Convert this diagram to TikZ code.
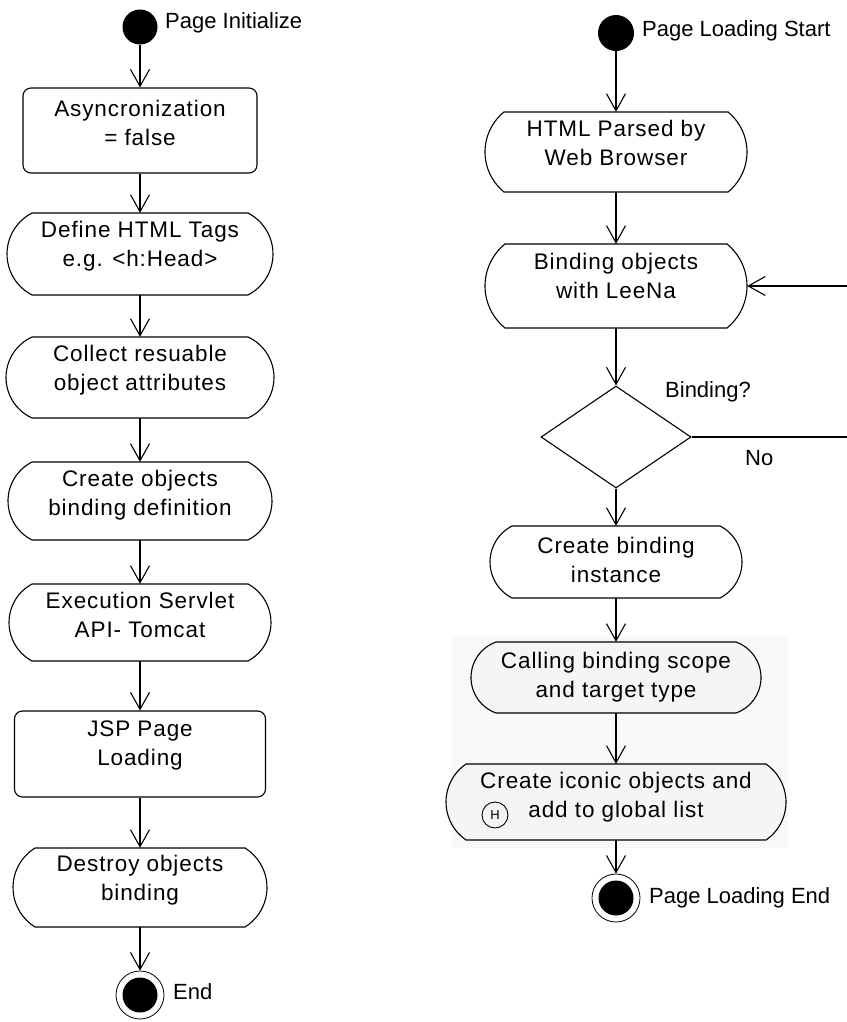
\documentclass[tikz,border=0pt]{standalone}
\usepackage{fontspec}
\setmainfont{Liberation Sans}
\newfontfamily\boxfont{Liberation Sans}[LetterSpace=4.0]
\usetikzlibrary{arrows.meta,shapes.geometric,calc}

\tikzset{
  flow/.style={line width=1.1pt,
    -{Straight Barb[length=17pt,width=19pt,line width=1.1pt]}},
  plain/.style={line width=1.1pt},
  outline/.style={draw=black, line width=1.1pt},
  boxtext/.style={font=\boxfont\fontsize{22.5}{29}\selectfont, align=center, inner sep=0pt},
  anchorbox/.style={draw=none, inner sep=0pt},
  lbl/.style={font=\fontsize{22}{26}\selectfont, anchor=west, inner sep=0pt},
  startdot/.style={circle, fill=black, inner sep=0pt},
  enddot/.style={circle, draw=black, line width=0.8pt, minimum size=48pt, inner sep=0pt,
    path picture={\fill[black] (path picture bounding box.center) circle[radius=17.5pt];}},
  decision/.style={diamond, draw=black, line width=1.1pt, fill=white, inner sep=0pt,
    minimum width=150pt, minimum height=102pt},
  histbadge/.style={circle, draw=black, line width=0.9pt, minimum size=26pt, inner sep=0pt,
    font=\fontsize{13}{13}\selectfont},
}

% Action state: flat top and bottom, circular-arc sides.
% #1 name, #2 cx, #3 cy, #4 half flat width, #5 half height, #6 side bulge,
% #7 fill colour, #8 text raise, #9 text
\newcommand\actstate[9]{%
  \pgfmathsetmacro\asr{(#5*#5+#6*#6)/(2*#6)}%
  \pgfmathsetmacro\asphi{asin(#5/\asr)}%
  \draw[outline, fill=#7] (#2+#4,#3+#5) -- (#2-#4,#3+#5)
    arc[start angle=180-\asphi, end angle=180+\asphi, radius=\asr pt]
    -- (#2+#4,#3-#5)
    arc[start angle=-\asphi, end angle=\asphi, radius=\asr pt] -- cycle;
  \node[anchorbox, minimum width={(2*#4+2*#6)*1pt}, minimum height={2*#5*1pt}] (#1) at (#2,#3) {};
  \node[boxtext] (#1t) at (#2,#3+#8) {#9};
}

% Rounded rectangle state: #1 name, #2 cx, #3 cy, #4 width, #5 height, #6 text raise, #7 text
\newcommand\rectstate[7]{%
  \node[outline, rounded corners=8pt, fill=white, inner sep=0pt,
        minimum width=#4pt, minimum height=#5pt] (#1) at (#2,#3) {};
  \node[boxtext] (#1t) at (#2,#3+#6) {#7};
}

\begin{document}
\begin{tikzpicture}[x=1pt,y=1pt]
\useasboundingbox (0,0) rectangle (846,-1022);
\fill[white] (0,0) rectangle (846,-1022);

% pasted light-grey area behind the last two actions
\fill[gray!5] (452,-636) rectangle (788,-848);

% ---------- page initialisation ----------
\node[startdot, minimum size=35pt] (s1) at (140,-27) {};
\node[lbl] (s1l) at (165,-23) {Page Initialize};

\rectstate{a1}{140}{-130.5}{234}{85}{8}{Asyncronization\\= false}
\actstate{a2}{140}{-254}{108}{41}{25}{white}{8}{Define HTML Tags\\e.g. <h:Head>}
\actstate{a3}{140}{-377.5}{108}{40.5}{26}{white}{7.5}{Collect resuable\\object attributes}
\actstate{a4}{140}{-501}{108}{39}{24}{white}{6}{Create objects\\binding definition}
\actstate{a5}{140}{-622.5}{108}{38.5}{23}{white}{7.5}{Execution Servlet\\API- Tomcat}
\rectstate{a6}{140}{-754}{251}{86}{9}{JSP Page\\Loading}
\actstate{a7}{140}{-887.5}{105}{39.5}{22}{white}{7.5}{Destroy objects\\binding}

\node[enddot] (e1) at (140,-995) {};
\node[lbl] (e1l) at (173,-992) {End};

\draw[flow] (s1) -- (a1);
\draw[flow] (a1) -- (a2);
\draw[flow] (a2) -- (a3);
\draw[flow] (a3) -- (a4);
\draw[flow] (a4) -- (a5);
\draw[flow] (a5) -- (a6);
\draw[flow] (a6) -- (a7);
\draw[flow] (a7) -- (e1);

% ---------- page loading ----------
\node[startdot, minimum size=36pt] (s2) at (616,-33) {};
\node[lbl] (s2l) at (642,-31) {Page Loading Start};

\actstate{b1}{616}{-152}{112}{40}{19}{white}{9}{HTML Parsed by\\Web Browser}
\actstate{b2}{616}{-286}{111}{42}{20}{white}{10}{Binding objects\\with LeeNa}

\node[decision] (dec) at (616,-437) {};
\node[lbl] (decq) at (665,-392) {Binding?};
\node[lbl] (decno) at (745,-458) {No};

\actstate{b3}{616}{-562}{104}{36}{22}{white}{2}{Create binding\\instance}
\actstate{b4}{616}{-677.5}{120}{35.5}{25}{gray!8}{0}{Calling binding scope\\and target type}
\actstate{b5}{616}{-802}{150}{38}{20}{gray!8}{5}{Create iconic objects and\\add to global list}
\node[histbadge] (hist) at (495,-815) {H};

\node[enddot] (e2) at (616,-898) {};
\node[lbl] (e2l) at (649,-898) {Page Loading End};

\draw[flow] (s2) -- (b1);
\draw[flow] (b1) -- (b2);
\draw[flow] (b2) -- (dec);
\draw[flow] (dec) -- (b3);
\draw[flow] (b3) -- (b4);
\draw[flow] (b4) -- (b5);
\draw[flow] (b5) -- (e2);

% "No" branch loops back to the binding step along the page edge
\coordinate (loopa) at (849,-437);
\coordinate (loopb) at (849,-286);
\draw[flow] (dec.east) -- (loopa) -- (loopb) -- (b2.east);
\end{tikzpicture}
\end{document}
